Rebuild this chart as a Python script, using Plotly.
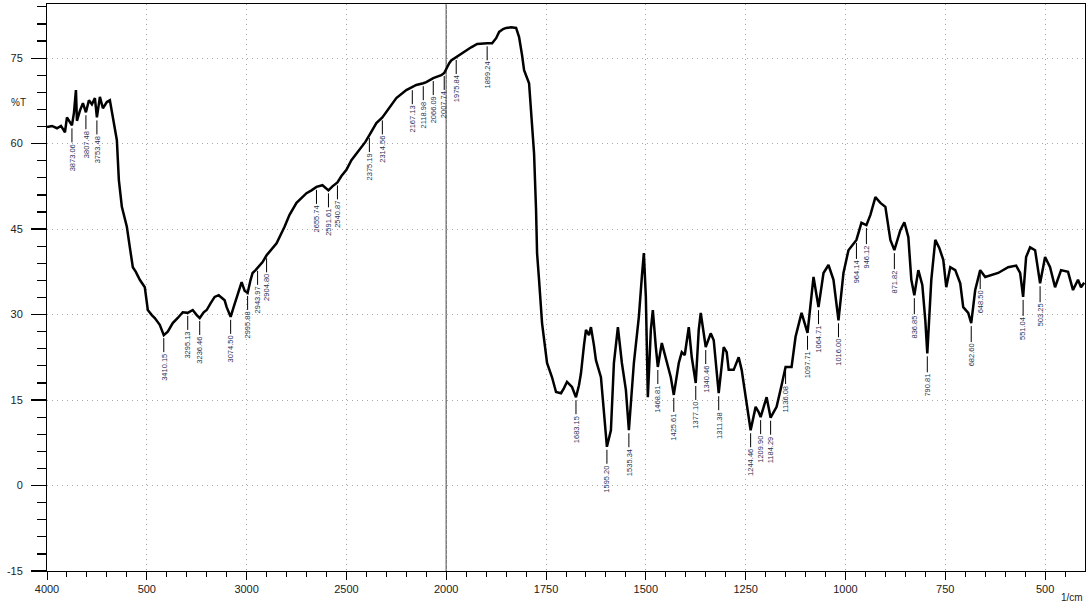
import numpy as np
import plotly.graph_objects as go

# ---------------- data ----------------
wavenumber = [
    4000, 3975, 3950, 3930, 3910, 3900, 3875, 3865, 3855, 3850, 3835, 3820, 3805, 3790,
    3775, 3760, 3750, 3735, 3720, 3700, 3685, 3670, 3660, 3650, 3645, 3640, 3625, 3610,
    3600, 3585, 3570, 3555, 3535, 3510, 3495, 3475, 3460, 3435, 3415, 3395, 3370, 3345,
    3320, 3295, 3270, 3250, 3235, 3215, 3200, 3180, 3160, 3140, 3125, 3110, 3100, 3080,
    3065, 3050, 3035, 3025, 3010, 2995, 2980, 2970, 2955, 2945, 2920, 2900, 2885, 2850,
    2810, 2785, 2750, 2700, 2675, 2650, 2620, 2590, 2570, 2545, 2525, 2500, 2475, 2435,
    2405, 2385, 2365, 2350, 2320, 2285, 2250, 2200, 2170, 2150, 2115, 2100, 2065, 2050,
    2025, 2010, 2000, 1992.5, 1987.5, 1975, 1960, 1947.5, 1937.5, 1922.5, 1910, 1897.5,
    1885, 1875, 1867.5, 1857.5, 1850, 1837.5, 1825, 1817.5, 1810, 1805, 1792.5, 1785,
    1780, 1775, 1772.5, 1767.5, 1760, 1747.5, 1735, 1725, 1712.5, 1705, 1697.5, 1685,
    1675, 1667.5, 1662.5, 1655, 1650, 1642.5, 1637.5, 1630, 1625, 1612.5, 1605, 1597.5,
    1587.5, 1580, 1570, 1560, 1550, 1542.5, 1530, 1517.5, 1510, 1505, 1500, 1495, 1487.5,
    1482.5, 1475, 1470, 1460, 1447.5, 1437.5, 1430, 1417.5, 1410, 1402.5, 1392.5, 1385,
    1375, 1367.5, 1362.5, 1355, 1350, 1337.5, 1330, 1317.5, 1305, 1297.5, 1292.5, 1280,
    1267.5, 1260, 1247.5, 1237.5, 1225, 1217.5, 1212.5, 1202.5, 1197.5, 1187.5, 1172.5,
    1160, 1150, 1135, 1125, 1110, 1095, 1080, 1067.5, 1055, 1042.5, 1030, 1017.5, 1005,
    992.5, 972.5, 960, 947.5, 937.5, 925, 912.5, 900, 887.5, 877.5, 862.5, 852.5, 842.5,
    835, 827.5, 817.5, 807.5, 800, 795, 785, 775, 765, 755, 747.5, 737.5, 725, 712.5,
    705, 692.5, 685, 675, 662.5, 650, 617.5, 592.5, 572.5, 562.5, 555, 547.5, 537.5, 525,
    512.5, 500, 487.5, 475, 460, 442.5, 430, 417.5, 410, 402,
]
transmittance = [
    62.9, 63.1, 62.7, 63.1, 62.0, 64.6, 63.2, 65.4, 69.4, 64.0, 65.8, 67.1, 65.5, 67.6,
    66.9, 68.0, 64.6, 68.2, 66.2, 67.3, 67.6, 64.6, 63.2, 60.6, 57.1, 53.6, 48.9, 46.9,
    45.4, 41.8, 38.3, 37.5, 36.1, 34.8, 30.8, 29.9, 29.4, 28.2, 26.4, 27.0, 28.5, 29.4,
    30.4, 30.3, 30.8, 29.9, 29.4, 30.4, 30.8, 32.0, 33.1, 33.4, 32.9, 32.5, 31.3, 29.6,
    31.3, 33.1, 34.6, 35.7, 34.2, 33.8, 36.1, 37.3, 37.8, 38.2, 39.2, 40.4, 41.0, 42.5,
    45.4, 47.5, 49.6, 51.3, 51.8, 52.4, 52.7, 51.8, 52.5, 53.2, 54.3, 55.4, 57.1, 58.9,
    60.3, 61.5, 62.7, 63.6, 64.6, 66.4, 68.0, 69.4, 69.9, 70.3, 70.6, 70.8, 71.5, 71.7,
    72.0, 72.4, 73.2, 74.1, 74.6, 75.2, 75.9, 76.4, 76.9, 77.5, 77.6, 77.6,
    77.6, 78.5, 79.6, 80.1, 80.3, 80.4, 80.3, 78.7, 75.5, 72.9, 70.6, 64.1,
    58.3, 48.3, 40.8, 36.1, 28.5, 21.5, 19.0, 16.4, 16.2, 17.1, 18.2, 17.3,
    15.5, 17.6, 19.7, 24.6, 27.3, 26.4, 27.8, 24.6, 22.0, 19.0, 13.2, 6.8,
    9.7, 21.5, 27.8, 21.5, 16.8, 9.7, 21.5, 29.6, 36.6, 40.8, 33.1, 15.5, 27.3,
    30.8, 24.3, 20.8, 25.0, 21.5, 19.0, 15.9, 21.5, 23.4, 22.9, 27.8, 22.5,
    18.0, 27.3, 30.3, 26.8, 24.3, 26.7, 25.5, 16.2, 24.3, 23.4, 20.3, 20.3,
    22.5, 20.3, 14.1, 9.7, 13.8, 12.9, 12.0, 14.6, 15.5, 11.9, 13.8,
    17.6, 20.8, 20.8, 26.1, 30.3, 26.8, 36.6, 31.3, 37.3, 38.7, 36.1, 29.0, 37.3,
    41.3, 43.1, 46.1, 45.7, 47.5, 50.6, 49.6, 48.9, 43.1, 41.3, 44.8, 46.2, 43.6,
    36.1, 33.4, 37.8, 35.2, 29.0, 23.2, 36.1, 43.1, 41.7, 39.6, 34.8, 38.3, 37.8, 35.5,
    31.3, 30.3, 28.5, 34.3, 37.8, 36.6, 37.3, 38.3, 38.6, 37.3, 33.1, 40.1, 41.8, 41.3,
    35.5, 40.1, 38.3, 34.8, 37.8, 37.5, 34.3, 36.1, 34.8, 35.6,
]

peak_wavenumbers = [
    3875, 3805, 3750, 3415, 3295, 3235, 3080, 2995, 2945, 2900, 2650, 2590, 2545,
    2385, 2320, 2170, 2115, 2065, 2010, 1975, 1897.5, 1675, 1597.5, 1542.5, 1470,
    1430, 1375, 1350, 1317.5, 1237.5, 1212.5, 1187.5, 1150, 1095, 1067.5, 1017.5,
    972.5, 947.5, 877.5, 827.5, 795, 685, 662.5, 555, 512.5,
]
peak_labels = [
    "3873.06", "3807.48", "3753.48", "3410.15", "3295.13", "3236.46", "3074.50",
    "2995.88", "2943.97", "2904.80", "2655.74", "2591.61", "2540.87", "2375.19",
    "2314.56", "2167.13", "2118.98", "2066.09", "2007.74", "1975.84", "1899.24",
    "1683.15", "1595.20", "1535.34", "1468.81", "1425.61", "1377.10", "1340.46",
    "1311.38", "1244.46", "1209.90", "1184.29", "1136.08", "1097.71", "1064.71",
    "1016.00", "964.14", "946.12", "871.82", "836.85", "790.81", "682.60", "648.50",
    "551.04", "503.25",
]

x_tick_values = [4000, 3500, 3000, 2500, 2000, 1750, 1500, 1250, 1000, 750, 500]
x_tick_labels = ["4000", "500", "3000", "2500", "2000", "1750", "1500", "1250", "1000", "750", "500"]
x_minor_left = list(range(3900, 2000, -100))
x_minor_right = list(range(1950, 400, -50))
y_tick_values = [-15, 0, 15, 30, 45, 60, 75]
y_tick_labels = ["-15", "0", "15", "30", "45", "60", "75"]


# split (two-scale) wavenumber axis: 4000-2000 compressed, 2000-400 expanded
def to_axis(w):
    w = np.asarray(w, dtype=float)
    return np.where(w >= 2000, (4000 - w) * 0.2, 400 + (2000 - w) * 0.4)


xu = to_axis(wavenumber)
order = np.argsort(xu)
xu_sorted = xu[order]
t_sorted = np.asarray(transmittance)[order]

FONT = "Liberation Sans, Arial, sans-serif"
GRID_DASH = "1px,4px"

fig = go.Figure()
fig.add_trace(go.Scatter(
    x=xu, y=transmittance, mode="lines",
    line=dict(color="black", width=2.5),
    hoverinfo="skip", showlegend=False,
))

annotations = []
for w, lab in zip(peak_wavenumbers, peak_labels):
    u = float(to_axis(w))
    t = float(np.interp(u, xu_sorted, t_sorted))
    annotations.append(dict(
        x=u, y=t, xref="x", yref="y", text=lab, textangle=-90,
        showarrow=True, arrowhead=0, arrowwidth=1, arrowcolor="black",
        ax=0, ay=32, standoff=3,
        font=dict(family=FONT, size=7.5, color="#2b2f55"),
    ))

annotations.append(dict(
    x=-29 / 1038, y=67.3, xref="paper", yref="y", text="%T", showarrow=False,
    font=dict(family=FONT, size=10, color="#222"), xanchor="center", yanchor="middle",
))
annotations.append(dict(
    x=1, y=-0.046, xref="paper", yref="paper", text="1/cm", showarrow=False,
    font=dict(family=FONT, size=10, color="#222"), xanchor="right", yanchor="middle",
))

x_range = [0, float(to_axis(400))]

fig.update_layout(
    width=1089, height=605,
    margin=dict(l=47, r=4, t=4, b=34, autoexpand=False),
    paper_bgcolor="white", plot_bgcolor="white",
    font=dict(family=FONT, size=11, color="#222"),
    annotations=annotations,
    shapes=[dict(
        type="line", xref="x", yref="paper",
        x0=float(to_axis(2000)), x1=float(to_axis(2000)), y0=0, y1=1,
        line=dict(color="#7a7a7a", width=1.5), layer="below",
    )],
    xaxis=dict(
        range=x_range, tickmode="array", automargin=False,
        tickvals=[float(v) for v in to_axis(x_tick_values)], ticktext=x_tick_labels,
        ticks="outside", ticklen=8, tickwidth=1, tickcolor="black",
        showline=True, linecolor="black", linewidth=1, mirror=True,
        showgrid=True, gridcolor="#a8a8a8", griddash=GRID_DASH, gridwidth=1,
        zeroline=False, tickfont=dict(size=11, family=FONT, color="#222"),
        minor=dict(
            tickmode="array",
            tickvals=[float(v) for v in to_axis(x_minor_left + x_minor_right)],
            ticks="outside", ticklen=5, tickcolor="black", showgrid=False,
        ),
    ),
    yaxis=dict(
        range=[-15, 84.5], tickmode="array", automargin=False,
        tickvals=y_tick_values, ticktext=y_tick_labels,
        ticks="outside", ticklen=15, tickwidth=1.2, tickcolor="black",
        ticklabelstandoff=6,
        showline=True, linecolor="black", linewidth=1, mirror=True,
        showgrid=True, gridcolor="#a8a8a8", griddash=GRID_DASH, gridwidth=1,
        zeroline=False, tickfont=dict(size=11, family=FONT, color="#222"),
        minor=dict(
            tickmode="linear", tick0=-15, dtick=3,
            ticks="outside", ticklen=9, tickcolor="black", showgrid=False,
        ),
    ),
)

fig.write_html(
    "out.html",
    config={"displayModeBar": False, "staticPlot": True},
    post_script="document.body.style.margin='0';document.body.style.padding='0';",
)
